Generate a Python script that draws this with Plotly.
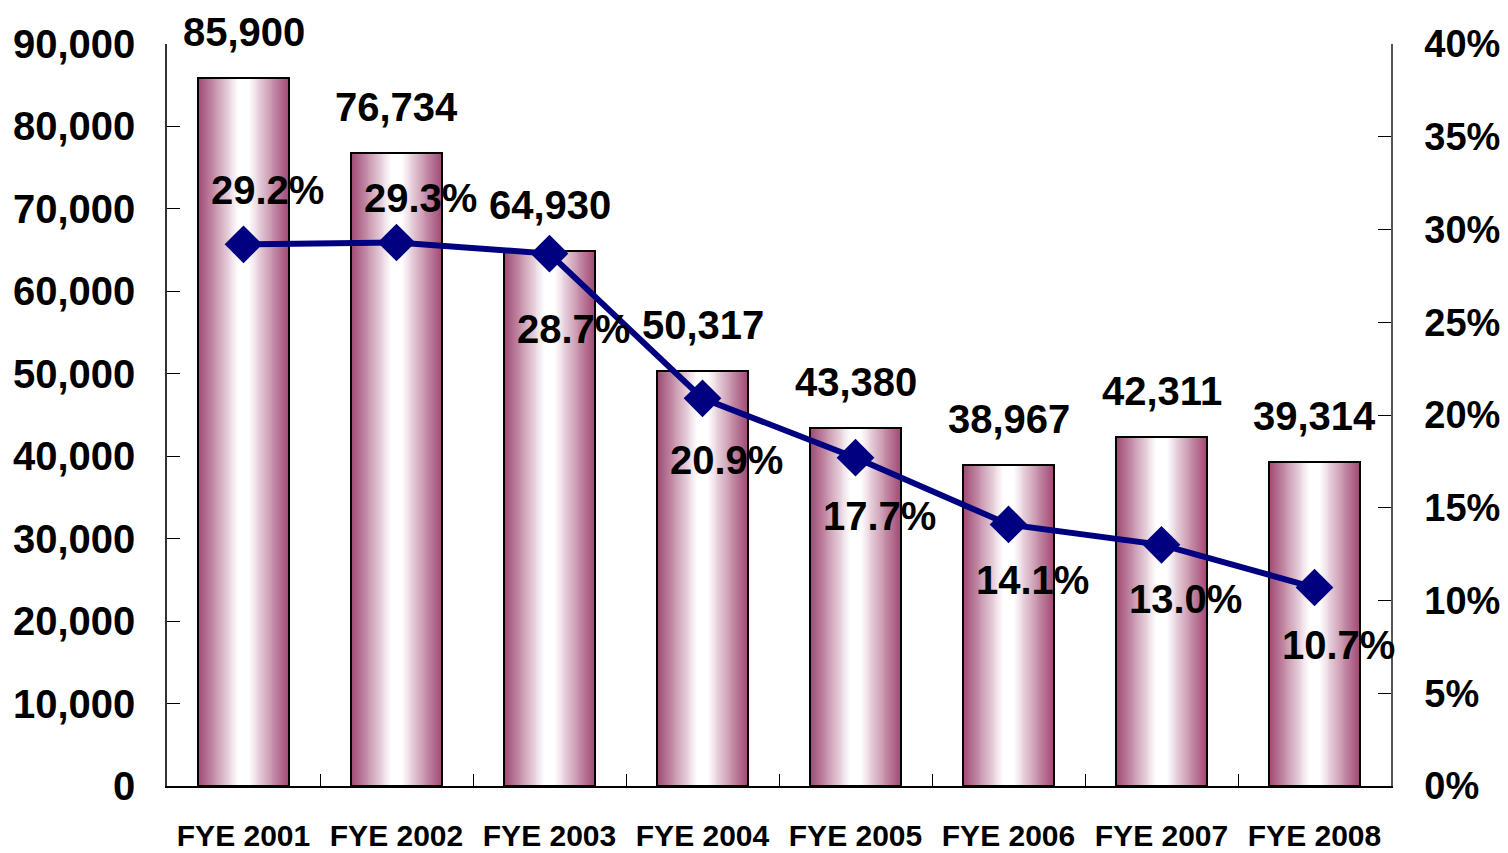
import plotly.graph_objects as go

categories = ["FYE 2001", "FYE 2002", "FYE 2003", "FYE 2004",
              "FYE 2005", "FYE 2006", "FYE 2007", "FYE 2008"]
bar_values = [85900, 76734, 64930, 50317, 43380, 38967, 42311, 39314]
pct_values = [29.2, 29.3, 28.7, 20.9, 17.7, 14.1, 13.0, 10.7]
left_ticks = [0, 10000, 20000, 30000, 40000, 50000, 60000, 70000, 80000, 90000]
right_ticks = [0, 5, 10, 15, 20, 25, 30, 35, 40]
right_tick_text = ["0%", "5%", "10%", "15%", "20%", "25%", "30%", "35%", "40%"]

# label placement offsets (pixels) for the percentage labels
pct_label_yshift = [54, 44, -75, -62, -58, -56, -54, -57]

FONT = "Liberation Sans, Arial, sans-serif"
EDGE = (153, 58, 104)
BAR_W = 0.6
CORE = 0.12
N_LAYERS = 44

fig = go.Figure()

# gradient bars built from overlaid bar layers of decreasing width
for i in range(N_LAYERS):
    t = i / (N_LAYERS - 1)
    w = BAR_W * (1 - (1 - CORE) * t)
    g = 0.06 + 0.94 * (t ** 1.0)
    r = round(EDGE[0] + (255 - EDGE[0]) * g)
    gg = round(EDGE[1] + (255 - EDGE[1]) * g)
    b = round(EDGE[2] + (255 - EDGE[2]) * g)
    fig.add_trace(go.Bar(
        x=categories, y=bar_values, width=w,
        marker=dict(color=f"rgb({r},{gg},{b})", line=dict(width=0)),
        hoverinfo="skip", showlegend=False, yaxis="y"))

# outline
fig.add_trace(go.Bar(
    x=categories, y=bar_values, width=BAR_W,
    marker=dict(color="rgba(0,0,0,0)", line=dict(color="black", width=2)),
    showlegend=False, yaxis="y", name="Value"))

fig.add_trace(go.Scatter(
    x=categories, y=pct_values, yaxis="y2", mode="lines+markers",
    line=dict(color="#000080", width=6),
    marker=dict(symbol="diamond", size=29, color="#000080"),
    showlegend=False, name="Ratio"))

annotations = []
for c, v in zip(categories, bar_values):
    annotations.append(dict(
        x=c, y=v, xref="x", yref="y", text=f"{v:,}", showarrow=False,
        yanchor="middle", yshift=46,
        font=dict(family=FONT, size=40, color="black", weight="bold")))
for c, p, ys in zip(categories, pct_values, pct_label_yshift):
    annotations.append(dict(
        x=c, y=p, xref="x", yref="y2", text=f"{p:.1f}%", showarrow=False,
        yanchor="middle", xshift=24, yshift=ys,
        font=dict(family=FONT, size=40, color="black", weight="bold")))

# page body adds an 8px offset, so the figure is 8px smaller than the window
fig.update_layout(
    width=1500, height=845,
    margin=dict(l=159, r=117, t=36, b=67, autoexpand=False),
    paper_bgcolor="white", plot_bgcolor="white",
    barmode="overlay", bargap=0,
    annotations=annotations,
    xaxis=dict(
        type="category", showline=True, linecolor="black", linewidth=1.5,
        ticks="inside", ticklen=12, tickcolor="black", tickson="boundaries",
        showgrid=False, ticklabelstandoff=22, automargin=False, tickangle=0,
        tickfont=dict(family=FONT, size=30, color="black", weight="bold"),
        range=[-0.5, 7.5]),
    yaxis=dict(
        range=[0, 90000], tickvals=left_ticks, tickformat=",",
        showline=True, linecolor="#333", linewidth=1.5,
        ticks="inside", ticklen=13, tickcolor="black", automargin=False,
        showgrid=False, zeroline=False, ticklabelstandoff=22,
        tickfont=dict(family=FONT, size=40, color="black", weight="bold")),
    yaxis2=dict(
        range=[0, 40], tickvals=right_ticks, ticktext=right_tick_text,
        overlaying="y", side="right", anchor="x", automargin=False,
        showline=True, linecolor="#555", linewidth=1.5,
        ticks="inside", ticklen=13, tickcolor="black",
        showgrid=False, zeroline=False, ticklabelstandoff=24,
        tickfont=dict(family=FONT, size=38, color="black", weight="bold")),
)

fig.write_html("out.html")
